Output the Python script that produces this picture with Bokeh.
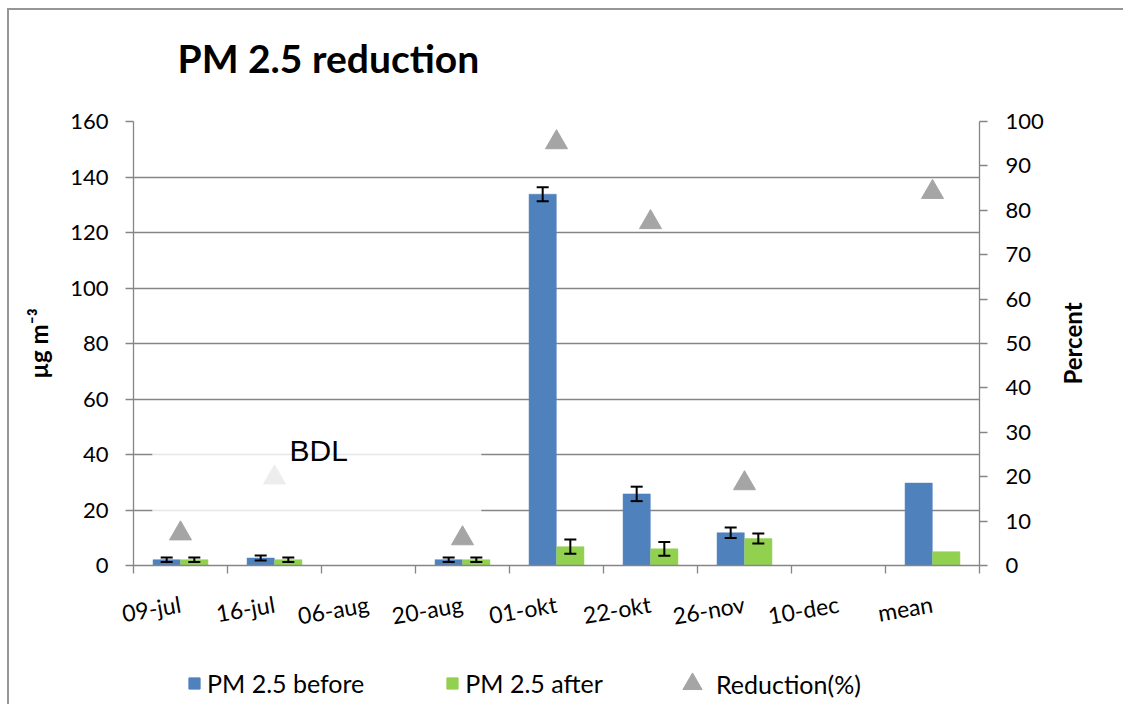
import numpy as np
from bokeh.plotting import figure
from bokeh.layouts import column, row
from bokeh.models import (ColumnDataSource, Range1d, LinearAxis, FixedTicker, Whisker, TeeHead,
                          BoxAnnotation, Label, Legend, LegendItem)
from bokeh.embed import file_html
from bokeh.resources import INLINE

# ---------------- data ----------------
categories = ["09-jul", "16-jul", "06-aug", "20-aug", "01-okt", "22-okt", "26-nov", "10-dec", "mean"]
pm_before = [2.1, 2.7, np.nan, 2.1, 133.8, 25.8, 11.8, np.nan, 29.7]
pm_before_err = [0.8, 0.9, np.nan, 0.8, 2.5, 2.6, 1.9, np.nan, np.nan]
pm_after = [2.1, 2.1, np.nan, 2.1, 6.8, 6.0, 9.7, np.nan, 5.0]
pm_after_err = [0.8, 0.8, np.nan, 0.8, 2.6, 2.5, 1.8, np.nan, np.nan]
reduction_pct = [7.2, 19.8, np.nan, 6.1, 95.3, 77.3, 18.5, np.nan, 84.1]
left_ticks = [0, 20, 40, 60, 80, 100, 120, 140, 160]
right_ticks = [0, 10, 20, 30, 40, 50, 60, 70, 80, 90, 100]
series_names = ["PM 2.5 before", "PM 2.5 after", "Reduction(%)"]
title_text = "PM 2.5 reduction"
left_title = "µg m⁻³"
right_title = "Percent"

BLUE = "#4f81bd"
GREEN = "#92d050"
TRI = "#a5a5a5"
GRID = "#868686"
FONT = "Lato"

n = len(categories)
centers = np.arange(n) + 0.5
boundaries = list(np.arange(n + 1).astype(float))
off = 0.147
bw = 0.29

bef = np.array(pm_before, dtype=float)
bef_e = np.array(pm_before_err, dtype=float)
aft = np.array(pm_after, dtype=float)
aft_e = np.array(pm_after_err, dtype=float)

src = ColumnDataSource(dict(
    xb=centers - off, xa=centers + off, xc=centers,
    before=bef, after=aft, red=np.array(reduction_pct, dtype=float),
    b_up=bef + bef_e, b_lo=bef - bef_e, a_up=aft + aft_e, a_lo=aft - aft_e,
))

W = 1114
MAIN_W = 1044
MAIN_H = 545
B_LEFT, B_TOP, B_BOTTOM = 124, 16, 85


def strip(width, height, left=B_LEFT, top=0, bottom=0, xr=(-100, -99), yr=(-100, -99)):
    f = figure(width=width, height=height, output_backend="svg", toolbar_location=None,
               x_range=Range1d(*xr), y_range=Range1d(*yr),
               min_border_left=left, min_border_right=0, min_border_top=top,
               min_border_bottom=bottom)
    f.axis.visible = False
    f.grid.visible = False
    f.outline_line_color = None
    f.background_fill_color = "white"
    f.border_fill_color = "white"
    return f


# ---------------- title strip ----------------
top = strip(W, 95)
top.title.text = title_text
top.title.text_font = FONT
top.title.text_font_size = "39px"
top.title.text_font_style = "bold"
top.title.text_color = "black"
top.title.align = "left"
top.title.offset = 44
top.title.standoff = 45

# ---------------- main chart ----------------
p = figure(width=MAIN_W, height=MAIN_H, output_backend="svg", toolbar_location=None,
           title_location=None, x_range=Range1d(0, n), y_range=Range1d(0, 160),
           min_border_left=B_LEFT, min_border_right=MAIN_W - B_LEFT - 846,
           min_border_top=B_TOP, min_border_bottom=B_BOTTOM)
p.outline_line_color = None
p.background_fill_color = "white"
p.border_fill_color = "white"
p.extra_y_ranges = {"pct": Range1d(0, 100)}

p.xgrid.visible = False
p.ygrid.ticker = FixedTicker(ticks=left_ticks)
p.ygrid.grid_line_color = GRID
p.ygrid.grid_line_width = 1.3

p.vbar(x="xb", top="before", width=bw, source=src, fill_color=BLUE, line_color=BLUE, line_width=0.5)
p.vbar(x="xa", top="after", width=bw, source=src, fill_color=GREEN, line_color=GREEN, line_width=0.5)

for base, up, lo in (("xb", "b_up", "b_lo"), ("xa", "a_up", "a_lo")):
    w = Whisker(base=base, upper=up, lower=lo, source=src, line_color="black", line_width=2,
                level="annotation",
                upper_head=TeeHead(size=12, line_color="black", line_width=2),
                lower_head=TeeHead(size=12, line_color="black", line_width=2))
    p.add_layout(w)

p.scatter(x="xc", y="red", source=src, y_range_name="pct", marker="triangle",
          size=22, fill_color=TRI, line_color=TRI)

# semi-transparent white box with BDL text
p.add_layout(BoxAnnotation(left=0.2, right=3.7, bottom=17, top=48, fill_color="white",
                           fill_alpha=0.8, line_color=None))
p.add_layout(Label(x=1.97, y=41.5, text="BDL", text_font="Liberation Sans", text_font_size="30px",
                   text_color="black", text_align="center", text_baseline="alphabetic"))

xa = p.xaxis[0]
xa.ticker = FixedTicker(ticks=list(centers), minor_ticks=boundaries)
xa.major_label_overrides = {float(c): lab for c, lab in zip(centers, categories)}
xa.major_label_orientation = 0.17
xa.major_tick_out = 0
xa.major_tick_in = 0
xa.minor_tick_out = 8
xa.minor_tick_in = 0
xa.minor_tick_line_color = GRID
xa.minor_tick_line_width = 1.3
xa.axis_line_color = GRID
xa.axis_line_width = 1.3
xa.major_label_text_font = FONT
xa.major_label_text_font_size = "23px"
xa.major_label_text_color = "black"
xa.major_label_standoff = 30

ya = p.yaxis[0]
ya.ticker = FixedTicker(ticks=left_ticks)
ya.axis_label = left_title
ya.axis_label_text_font = FONT
ya.axis_label_text_font_size = "24px"
ya.axis_label_text_font_style = "bold"
ya.axis_label_text_color = "black"
ya.axis_label_standoff = 14
ya.major_label_text_font = FONT
ya.major_label_text_font_size = "22px"
ya.major_label_text_color = "black"
ya.major_label_standoff = 17
ya.major_tick_out = 8
ya.major_tick_in = 0
ya.minor_tick_out = 0
ya.minor_tick_in = 0
ya.axis_line_color = GRID
ya.axis_line_width = 1.3
ya.major_tick_line_color = GRID
ya.major_tick_line_width = 1.3

ra = LinearAxis(y_range_name="pct", ticker=FixedTicker(ticks=right_ticks))
ra.major_label_text_font = FONT
ra.major_label_text_font_size = "22px"
ra.major_label_text_color = "black"
ra.major_label_standoff = 18
ra.major_tick_out = 8
ra.major_tick_in = 0
ra.minor_tick_out = 0
ra.minor_tick_in = 0
ra.axis_line_color = GRID
ra.axis_line_width = 1.3
ra.major_tick_line_color = GRID
ra.major_tick_line_width = 1.3
p.add_layout(ra, "right")

# ---------------- right-hand axis title (bottom-to-top, centred on the plot area) ----------------
side = strip(W - MAIN_W, MAIN_H, left=0, top=B_TOP, bottom=B_BOTTOM, xr=(0, 1), yr=(0, 1))
side.add_layout(Label(x=0.27, y=0.5, text=right_title, angle=1.5708, text_font=FONT,
                      text_font_size="24px", text_font_style="bold", text_color="black",
                      text_align="center", text_baseline="middle"))

# ---------------- legend strip ----------------
lg = strip(W, 54)
e1 = lg.vbar(x="xb", top="before", width=bw, source=src, fill_color=BLUE, line_color=BLUE)
e2 = lg.vbar(x="xa", top="after", width=bw, source=src, fill_color=GREEN, line_color=GREEN)
e3 = lg.scatter(x="xc", y="red", source=src, marker="triangle", size=22,
                fill_color=TRI, line_color=TRI)
common = dict(orientation="horizontal", padding=0, margin=0, border_line_color=None,
              background_fill_alpha=0, label_text_font=FONT, label_text_font_size="25px",
              label_text_color="black")
legend_bars = Legend(items=[LegendItem(label=series_names[0], renderers=[e1]),
                            LegendItem(label=series_names[1], renderers=[e2])],
                     location=(54, 6), glyph_width=14, glyph_height=14, label_standoff=6,
                     spacing=81, **common)
legend_tri = Legend(items=[LegendItem(label=series_names[2], renderers=[e3])],
                    location=(535, -7), glyph_width=48, glyph_height=55, label_standoff=0,
                    **common)
lg.add_layout(legend_bars, "center")
lg.add_layout(legend_tri, "center")

layout = column(top, row(p, side, spacing=0), lg, spacing=0)
layout.styles = {"margin-left": "7px", "margin-top": "8px",
                 "border-left": "2px solid #969696", "border-top": "2px solid #969696"}

open("out.html", "w").write(file_html(layout, INLINE))
